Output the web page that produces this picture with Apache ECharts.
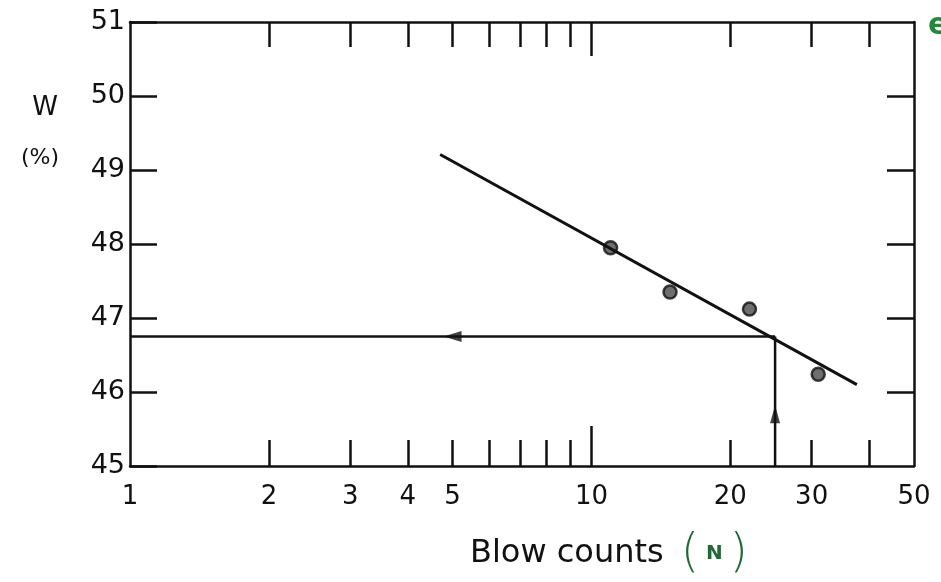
<!DOCTYPE html>
<html>
<head>
<meta charset="utf-8">
<script src="https://cdn.jsdelivr.net/npm/echarts@6/dist/echarts.min.js"></script>
<style>
html,body{margin:0;padding:0;background:#fff;}
#chart{width:941px;height:582px;}
</style>
</head>
<body>
<div id="chart"></div>
<script>
// ---- data ----
const xMinorTicks = [2, 3, 4, 5, 6, 7, 8, 9, 20, 30, 40];
const xMajorTicks = [10];
const xTickLabels = [1, 2, 3, 4, 5, 10, 20, 30, 50];
const yTickLabels = [45, 46, 47, 48, 49, 50, 51];
const yRightTicks = [46, 47, 48, 49, 50];

const blowCounts = [11.0, 14.8, 22.0, 31.0];
const waterContent = [47.95, 47.35, 47.12, 46.24];

const fitN = [4.7, 37.6];
const fitW = [49.21, 46.1];

const liquidLimitW = 46.75;   // WL
const liquidLimitN = 25;
const leftArrowN = 5;
const upArrowW = 45.7;
const wlLabelN = 3.25;

const xMin = 1, xMax = 50, yMin = 45, yMax = 51;

const font = 'DejaVu Sans';
const ink = '#111';

function xAxisBase(pos, ticks, len, showLine, labels) {
  return {
    type: 'log', logBase: 10, min: xMin, max: xMax, position: pos, gridIndex: 0,
    axisLine: { show: showLine, lineStyle: { color: ink, width: 2.5 } },
    axisTick: { show: true, inside: true, length: len, customValues: ticks, lineStyle: { color: ink, width: 2.5 } },
    axisLabel: labels ? { show: true, customValues: labels, margin: 18, color: ink, fontFamily: font, fontSize: 26, hideOverlap: false } : { show: false },
    splitLine: { show: false }, minorTick: { show: false }, minorSplitLine: { show: false }
  };
}

const chart = echarts.init(document.getElementById('chart'), null, { renderer: 'canvas' });

const option = {
  animation: false,
  backgroundColor: '#fff',
  grid: { left: 130, right: 27, top: 22, bottom: 116, containLabel: false },
  xAxis: [
    xAxisBase('bottom', xMinorTicks, 26, true, xTickLabels),
    xAxisBase('bottom', xMajorTicks, 40, false, null),
    xAxisBase('top', xMinorTicks, 25, true, null),
    xAxisBase('top', xMajorTicks, 34, false, null)
  ],
  yAxis: [
    {
      type: 'value', min: yMin, max: yMax, interval: 1, position: 'left',
      axisLine: { show: true, lineStyle: { color: ink, width: 2.5 } },
      axisTick: { show: true, inside: true, length: 27, customValues: yTickLabels, lineStyle: { color: ink, width: 2.5 } },
      axisLabel: { show: true, customValues: yTickLabels, margin: 5, color: ink, fontFamily: font, fontSize: 27 },
      splitLine: { show: false }
    },
    {
      type: 'value', min: yMin, max: yMax, interval: 1, position: 'right',
      axisLine: { show: true, lineStyle: { color: ink, width: 2.5 } },
      axisTick: { show: true, inside: true, length: 27, customValues: yRightTicks, lineStyle: { color: ink, width: 2.5 } },
      axisLabel: { show: false },
      splitLine: { show: false }
    }
  ],
  series: [
    {
      type: 'line', xAxisIndex: 0, yAxisIndex: 0, symbol: 'none',
      data: fitN.map((n, i) => [n, fitW[i]]),
      lineStyle: { color: ink, width: 3 }
    },
    {
      type: 'line', xAxisIndex: 0, yAxisIndex: 0, symbol: 'none',
      data: [[xMin, liquidLimitW], [liquidLimitN, liquidLimitW]],
      lineStyle: { color: ink, width: 2.5 }
    },
    {
      type: 'line', xAxisIndex: 0, yAxisIndex: 0, symbol: 'none',
      data: [[liquidLimitN, yMin], [liquidLimitN, liquidLimitW]],
      lineStyle: { color: ink, width: 2.5 }
    },
    {
      type: 'scatter', xAxisIndex: 0, yAxisIndex: 0,
      symbol: 'circle', symbolSize: 13,
      itemStyle: { color: '#4a4a4a', borderColor: '#111', borderWidth: 2.5 },
      data: blowCounts.map((n, i) => [n, waterContent[i]])
    },
    {
      type: 'scatter', xAxisIndex: 0, yAxisIndex: 0,
      symbol: 'triangle', symbolSize: [11, 18], symbolRotate: 90,
      itemStyle: { color: ink },
      data: [[leftArrowN, liquidLimitW]]
    },
    {
      type: 'scatter', xAxisIndex: 0, yAxisIndex: 0,
      symbol: 'triangle', symbolSize: [10, 18], symbolRotate: 0,
      itemStyle: { color: ink },
      data: [[liquidLimitN, upArrowW]]
    },
    {
      type: 'scatter', xAxisIndex: 0, yAxisIndex: 0,
      symbol: 'none', symbolSize: 1,
      label: { show: true, position: 'top', distance: 3, formatter: 'WL', color: ink, fontFamily: font, fontSize: 26 },
      data: [[wlLabelN, liquidLimitW]]
    },
    {
      type: 'scatter', xAxisIndex: 0, yAxisIndex: 0,
      symbol: 'none', symbolSize: 1,
      label: { show: true, position: 'bottom', distance: 4, formatter: String(liquidLimitN), color: ink, fontFamily: font, fontSize: 14 },
      data: [[liquidLimitN, yMin]]
    }
  ],
  graphic: [
    { type: 'text', x: 45, y: 108, style: { text: 'W', fill: ink, font: '26px "DejaVu Sans"', align: 'center', verticalAlign: 'middle' } },
    { type: 'text', x: 40, y: 158, style: { text: '(%)', fill: ink, font: '22px "DejaVu Sans"', align: 'center', verticalAlign: 'middle' } },
    {
      type: 'text', x: 470, y: 554,
      style: {
        text: 'Blow counts {sp| }{p|(}{n| N }{p|)}',
        fill: ink, font: '32px "DejaVu Sans"', align: 'left', verticalAlign: 'middle',
        rich: {
          sp: { fontSize: 26 },
          p: { fill: '#1d6b34', fontSize: 46, fontFamily: 'DejaVu Sans', fontWeight: 'lighter' },
          n: { fill: '#1d6b34', fontSize: 20, fontFamily: 'DejaVu Sans', fontWeight: 'bold' }
        }
      }
    },
    { type: 'text', x: 928, y: 26, style: { text: 'e', fill: '#1f8a3a', font: 'bold 30px "DejaVu Sans"', align: 'left', verticalAlign: 'middle' } }
  ]
};

chart.setOption(option);
</script>
</body>
</html>
